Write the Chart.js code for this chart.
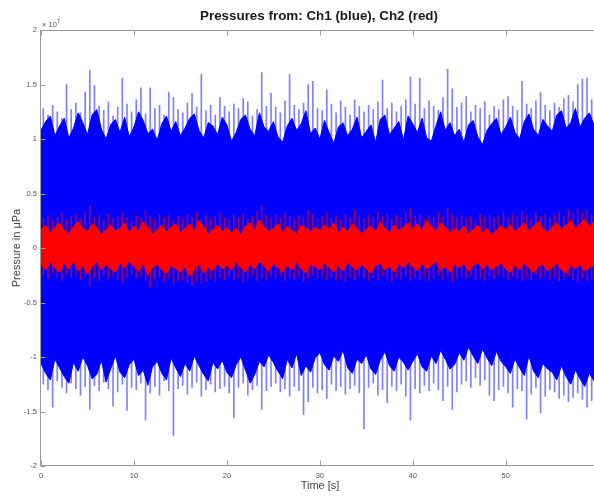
<!DOCTYPE html>
<html lang="en">
<head>
<meta charset="UTF-8">
<title>Pressures from: Ch1 (blue), Ch2 (red)</title>
<script src="https://cdn.jsdelivr.net/npm/chart.js"></script>
<style>
  html, body { margin: 0; padding: 0; background: #fff; }
  canvas { display: block; }
</style>
</head>
<body>
<canvas id="pressure" width="594" height="496"></canvas>
<script>
// axis ticks (time in s, pressure in 10^7 µPa)
const xTicks = [0, 10, 20, 30, 40, 50];
const yTicks = [-2, -1.5, -1, -0.5, 0, 0.5, 1, 1.5, 2];

// dense band of each channel, one sample per half second (t = 0..60)
const ch1Top = [
  1.08, 1.16, 1.21, 1.03, 1.12, 1.19, 1.01, 1.10, 1.24, 1.15,
  1.04, 1.22, 1.27, 1.09, 1.00, 1.13, 1.18, 1.06, 1.20, 1.02,
  1.11, 1.25, 1.17, 1.05, 1.09, 0.99, 1.14, 1.21, 1.07, 1.16,
  1.03, 1.10, 1.19, 1.23, 1.08, 1.01, 1.15, 1.12, 1.04, 1.20,
  1.13, 0.98, 1.06, 1.18, 1.22, 1.09, 1.03, 1.24, 1.11, 1.07,
  1.16, 1.02, 0.97, 1.12, 1.19, 1.08, 1.14, 1.26, 1.05, 1.10,
  1.00, 1.17, 1.06, 0.96, 1.11, 1.15, 1.03, 1.09, 1.20, 1.01,
  1.07, 1.13, 0.97, 1.18, 1.22, 1.04, 1.10, 1.16, 0.99, 1.21,
  1.14, 1.06, 1.19, 1.01, 0.98, 1.12, 1.25, 1.08, 1.15, 1.03,
  1.09, 0.97, 1.13, 1.17, 1.02, 0.95, 1.08, 1.14, 1.19, 1.04,
  1.11, 1.20, 1.06, 1.00, 1.16, 1.23, 1.09, 1.03, 1.18, 1.12,
  1.07, 1.22, 1.26, 1.10, 1.15, 1.28, 1.11, 1.19, 1.24, 1.13,
  1.20
];
const ch1Bottom = [
  -1.06, -1.15, -1.21, -1.02, -1.10, -1.18, -1.24, -1.05, -1.13, -1.00,
  -1.08, -1.20, -1.16, -1.03, -1.23, -1.11, -0.99, -1.14, -1.19, -1.07,
  -1.02, -1.17, -1.12, -1.26, -1.09, -1.04, -1.15, -1.21, -1.01, -1.10,
  -1.18, -1.06, -1.13, -0.99, -1.08, -1.16, -1.22, -1.05, -1.11, -1.03,
  -1.14, -1.19, -1.07, -1.00, -1.12, -1.24, -1.16, -1.04, -1.09, -0.98,
  -1.05, -1.13, -1.20, -1.02, -1.10, -0.97, -1.17, -1.08, -1.14, -1.01,
  -0.96, -1.07, -1.12, -0.99, -1.04, -0.94, -1.10, -1.15, -1.02, -1.06,
  -0.98, -1.11, -1.16, -1.03, -0.95, -1.08, -1.13, -1.00, -1.05, -1.12,
  -1.04, -0.97, -1.09, -1.13, -0.99, -1.06, -0.94, -1.02, -1.11, -1.07,
  -0.96, -1.03, -0.91, -0.99, -1.06, -0.93, -1.01, -1.08, -0.95, -1.04,
  -1.09, -1.15, -1.02, -1.10, -1.17, -0.99, -1.13, -1.19, -1.06, -1.11,
  -1.14, -1.21, -1.08, -1.18, -1.25, -1.12, -1.20, -1.27, -1.15, -1.22,
  -1.18
];
const ch2Top = [
  0.17, 0.21, 0.14, 0.19, 0.23, 0.16, 0.13, 0.20, 0.24, 0.18,
  0.15, 0.22, 0.19, 0.12, 0.17, 0.21, 0.15, 0.18, 0.23, 0.14,
  0.20, 0.16, 0.24, 0.19, 0.13, 0.17, 0.21, 0.15, 0.19, 0.22,
  0.14, 0.18, 0.22, 0.16, 0.25, 0.20, 0.13, 0.17, 0.21, 0.15,
  0.19, 0.14, 0.18, 0.12, 0.20, 0.23, 0.17, 0.26, 0.19, 0.15,
  0.18, 0.22, 0.14, 0.20, 0.16, 0.13, 0.21, 0.18, 0.15, 0.19,
  0.16, 0.21, 0.17, 0.23, 0.14, 0.19, 0.15, 0.22, 0.18, 0.13,
  0.17, 0.20, 0.15, 0.24, 0.18, 0.14, 0.21, 0.16, 0.19, 0.23,
  0.18, 0.22, 0.16, 0.25, 0.20, 0.15, 0.23, 0.19, 0.14, 0.18,
  0.15, 0.20, 0.13, 0.17, 0.21, 0.14, 0.18, 0.12, 0.16, 0.20,
  0.17, 0.21, 0.15, 0.19, 0.23, 0.16, 0.20, 0.24, 0.18, 0.14,
  0.19, 0.23, 0.17, 0.21, 0.25, 0.18, 0.22, 0.26, 0.20, 0.24,
  0.21
];
const ch2Bottom = [
  -0.15, -0.20, -0.13, -0.18, -0.22, -0.14, -0.19, -0.12, -0.21, -0.16,
  -0.24, -0.17, -0.13, -0.20, -0.15, -0.19, -0.22, -0.14, -0.18, -0.12,
  -0.17, -0.21, -0.14, -0.25, -0.18, -0.15, -0.20, -0.23, -0.16, -0.19,
  -0.22, -0.17, -0.26, -0.20, -0.15, -0.23, -0.18, -0.21, -0.14, -0.19,
  -0.16, -0.20, -0.13, -0.18, -0.22, -0.15, -0.19, -0.12, -0.17, -0.21,
  -0.14, -0.18, -0.22, -0.16, -0.20, -0.13, -0.19, -0.23, -0.15, -0.17,
  -0.20, -0.14, -0.18, -0.22, -0.16, -0.21, -0.13, -0.17, -0.20, -0.15,
  -0.19, -0.23, -0.16, -0.14, -0.20, -0.17, -0.22, -0.15, -0.18, -0.13,
  -0.17, -0.21, -0.14, -0.19, -0.16, -0.12, -0.20, -0.17, -0.22, -0.15,
  -0.18, -0.14, -0.21, -0.16, -0.13, -0.19, -0.15, -0.20, -0.17, -0.14,
  -0.19, -0.22, -0.16, -0.20, -0.14, -0.18, -0.23, -0.17, -0.15, -0.21,
  -0.18, -0.14, -0.20, -0.23, -0.16, -0.19, -0.15, -0.21, -0.18, -0.16,
  -0.19
];

// peak excursions, one per half second, between the band samples (t = 0.25..59.75)
const ch1PeakHi = [
  1.28, 1.22, 1.31, 1.25, 1.19, 1.50, 1.27, 1.33, 1.24, 1.43,
  1.63, 1.49, 1.30, 1.26, 1.34, 1.21, 1.29, 1.56, 1.32, 1.25,
  1.36, 1.47, 1.23, 1.47, 1.28, 1.31, 1.22, 1.43, 1.38, 1.27,
  1.24, 1.33, 1.42, 1.29, 1.59, 1.26, 1.31, 1.22, 1.38, 1.30,
  1.25, 1.32, 1.28, 1.37, 1.34, 1.21, 1.27, 1.61, 1.30, 1.42,
  1.29, 1.24, 1.35, 1.59, 1.31, 1.27, 1.33, 1.50, 1.53, 1.28,
  1.26, 1.45, 1.32, 1.24, 1.35, 1.29, 1.22, 1.36, 1.30, 1.25,
  1.31, 1.27, 1.34, 1.54, 1.28, 1.33, 1.25, 1.30, 1.36, 1.57,
  1.32, 1.56, 1.28, 1.35, 1.30, 1.26, 1.38, 1.64, 1.46, 1.29,
  1.33, 1.39, 1.25, 1.31, 1.28, 1.34, 1.22, 1.30, 1.27, 1.36,
  1.39, 1.30, 1.26, 1.53, 1.32, 1.28, 1.35, 1.43, 1.31, 1.26,
  1.33, 1.29, 1.37, 1.40, 1.34, 1.50, 1.55, 1.56, 1.36, 1.31
];
const ch1PeakLo = [
  -1.25, -1.30, -1.46, -1.22, -1.28, -1.33, -1.24, -1.29, -1.35, -1.27,
  -1.48, -1.26, -1.31, -1.23, -1.29, -1.45, -1.32, -1.25, -1.49, -1.28,
  -1.30, -1.24, -1.58, -1.33, -1.27, -1.35, -1.22, -1.31, -1.72, -1.29,
  -1.26, -1.34, -1.28, -1.23, -1.36, -1.30, -1.25, -1.32, -1.29, -1.27,
  -1.33, -1.56, -1.28, -1.24, -1.35, -1.30, -1.26, -1.48, -1.31, -1.27,
  -1.24, -1.32, -1.29, -1.36, -1.27, -1.31, -1.53, -1.41, -1.28, -1.33,
  -1.30, -1.38, -1.25, -1.31, -1.27, -1.34, -1.29, -1.26, -1.33, -1.66,
  -1.28, -1.24, -1.35, -1.30, -1.42, -1.27, -1.31, -1.25, -1.36, -1.58,
  -1.29, -1.33, -1.26, -1.31, -1.24, -1.30, -1.40, -1.27, -1.48, -1.32,
  -1.25, -1.22, -1.28, -1.19, -1.26, -1.21, -1.35, -1.40, -1.30, -1.27,
  -1.33, -1.46, -1.29, -1.31, -1.57, -1.34, -1.28, -1.51, -1.36, -1.30,
  -1.32, -1.38, -1.35, -1.41, -1.37, -1.33, -1.39, -1.46, -1.40, -1.34
];
const ch2PeakHi = [
  0.27, 0.30, 0.25, 0.28, 0.32, 0.26, 0.29, 0.31, 0.27, 0.33,
  0.39, 0.28, 0.30, 0.26, 0.31, 0.27, 0.29, 0.32, 0.28, 0.25,
  0.30, 0.27, 0.34, 0.29, 0.26, 0.31, 0.28, 0.30, 0.25, 0.29,
  0.27, 0.31, 0.28, 0.33, 0.26, 0.30, 0.27, 0.29, 0.32, 0.28,
  0.26, 0.30, 0.28, 0.31, 0.27, 0.29, 0.33, 0.39, 0.30, 0.28,
  0.31, 0.27, 0.32, 0.29, 0.26, 0.30, 0.28, 0.34, 0.31, 0.27,
  0.29, 0.32, 0.27, 0.30, 0.26, 0.31, 0.28, 0.35, 0.29, 0.27,
  0.30, 0.28, 0.33, 0.29, 0.31, 0.27, 0.30, 0.28, 0.32, 0.36,
  0.29, 0.31, 0.27, 0.30, 0.28, 0.33, 0.29, 0.37, 0.31, 0.28,
  0.30, 0.27, 0.29, 0.26, 0.31, 0.28, 0.30, 0.27, 0.29, 0.32,
  0.28, 0.31, 0.29, 0.33, 0.30, 0.27, 0.32, 0.29, 0.31, 0.28,
  0.30, 0.33, 0.29, 0.35, 0.31, 0.36, 0.32, 0.34, 0.30, 0.29
];
const ch2PeakLo = [
  -0.25, -0.28, -0.23, -0.27, -0.30, -0.24, -0.27, -0.25, -0.29, -0.26,
  -0.35, -0.27, -0.30, -0.25, -0.28, -0.26, -0.29, -0.32, -0.27, -0.24,
  -0.28, -0.26, -0.30, -0.36, -0.29, -0.27, -0.31, -0.28, -0.33, -0.30,
  -0.29, -0.32, -0.34, -0.30, -0.33, -0.31, -0.28, -0.30, -0.27, -0.29,
  -0.26, -0.29, -0.27, -0.31, -0.28, -0.25, -0.30, -0.27, -0.29, -0.26,
  -0.28, -0.25, -0.30, -0.27, -0.29, -0.26, -0.31, -0.28, -0.25, -0.27,
  -0.26, -0.29, -0.27, -0.30, -0.28, -0.31, -0.27, -0.29, -0.26, -0.28,
  -0.30, -0.27, -0.29, -0.25, -0.28, -0.31, -0.27, -0.29, -0.26, -0.30,
  -0.27, -0.29, -0.26, -0.30, -0.28, -0.25, -0.29, -0.27, -0.31, -0.28,
  -0.26, -0.28, -0.25, -0.29, -0.27, -0.30, -0.26, -0.28, -0.25, -0.27,
  -0.29, -0.26, -0.28, -0.30, -0.27, -0.29, -0.25, -0.28, -0.26, -0.29,
  -0.27, -0.30, -0.28, -0.26, -0.29, -0.31, -0.27, -0.30, -0.28, -0.27
];

const STEP = 0.5;          // s between samples
const PEAK_OFFSET = 0.25;  // peaks sit between band samples
const T_MAX = 59.5;

const band = arr => arr.map((v, i) => ({ x: i * STEP, y: v }));
const peaks = (lo, hi) => lo.map((v, i) => ({ x: PEAK_OFFSET + i * STEP, y: [v, hi[i]] }));

const FONT = '"Liberation Sans", Arial, Helvetica, sans-serif';
Chart.defaults.font.family = FONT;

// axes box, inward ticks and all labels, MATLAB style
const frame = {
  id: 'frame',
  afterDraw(chart) {
    const { ctx, chartArea: a, scales: { x, y } } = chart;
    ctx.save();
    ctx.strokeStyle = '#999';
    ctx.lineWidth = 1;
    ctx.beginPath();
    const L = Math.round(a.left) - 0.5, T = Math.round(a.top) + 0.5, B = Math.round(a.bottom) - 0.5;
    ctx.moveTo(L, T); ctx.lineTo(a.right, T);
    ctx.moveTo(L, T); ctx.lineTo(L, B);
    ctx.moveTo(L, B); ctx.lineTo(a.right, B);
    xTicks.forEach(v => {
      const px = Math.round(x.getPixelForValue(v)) + 0.5;
      ctx.moveTo(px, B); ctx.lineTo(px, B - 5);
      ctx.moveTo(px, T); ctx.lineTo(px, T + 5);
    });
    yTicks.forEach(v => {
      const py = Math.round(y.getPixelForValue(v)) + 0.5;
      ctx.moveTo(L, py); ctx.lineTo(L + 5, py);
    });
    ctx.stroke();

    ctx.textBaseline = 'middle';
    ctx.textAlign = 'center';
    ctx.fillStyle = '#1a1a1a';
    ctx.font = 'bold 13.4px ' + FONT;
    ctx.fillText('Pressures from: Ch1 (blue), Ch2 (red)', 319, 16, 238);

    ctx.fillStyle = '#444';
    ctx.font = '11px ' + FONT;
    ctx.fillText('Time [s]', 320, 486);

    ctx.save();
    ctx.translate(17, (a.top + a.bottom) / 2);
    ctx.rotate(-Math.PI / 2);
    ctx.fillText('Pressure in \u03bcPa', 0, 0);
    ctx.restore();

    // exponent of the y axis
    ctx.fillStyle = '#555';
    ctx.textAlign = 'left';
    ctx.textBaseline = 'alphabetic';
    ctx.font = '7.5px ' + FONT;
    ctx.fillText('\u00d7 10', a.left + 1, 27);
    ctx.font = '5.5px ' + FONT;
    ctx.fillText('7', a.left + 16, 23);
    ctx.restore();
  }
};

new Chart(document.getElementById('pressure'), {
  type: 'line',
  data: {
    datasets: [
      {
        type: 'bar', label: 'Ch1 peaks', data: peaks(ch1PeakLo, ch1PeakHi),
        backgroundColor: 'rgba(0, 0, 255, 0.5)', borderWidth: 0,
        barThickness: 1, grouped: false, order: 6
      },
      {
        label: 'Ch1', data: band(ch1Top), borderColor: '#0000ff', backgroundColor: '#0000ff',
        borderWidth: 1, pointRadius: 0, fill: '+1', order: 5
      },
      {
        label: 'Ch1 low', data: band(ch1Bottom), borderColor: '#0000ff',
        borderWidth: 1, pointRadius: 0, fill: false, order: 4
      },
      {
        type: 'bar', label: 'Ch2 peaks', data: peaks(ch2PeakLo, ch2PeakHi),
        backgroundColor: 'rgba(255, 0, 0, 0.6)', borderWidth: 0,
        barThickness: 1, grouped: false, order: 3
      },
      {
        label: 'Ch2', data: band(ch2Top), borderColor: '#ff0000', backgroundColor: '#ff0000',
        borderWidth: 1, pointRadius: 0, fill: '+1', order: 2
      },
      {
        label: 'Ch2 low', data: band(ch2Bottom), borderColor: '#ff0000',
        borderWidth: 1, pointRadius: 0, fill: false, order: 1
      }
    ]
  },
  options: {
    responsive: false,
    animation: false,
    layout: { padding: { top: 30, right: 0, left: 0, bottom: 0 } },
    plugins: { legend: { display: false }, title: { display: false }, tooltip: { enabled: false } },
    scales: {
      x: {
        type: 'linear', min: 0, max: T_MAX, offset: false,
        grid: { display: false, drawTicks: false, offset: false },
        border: { display: false },
        afterBuildTicks: s => { s.ticks = xTicks.map(v => ({ value: v })); },
        afterFit: s => { s.height = 30; },
        ticks: { color: '#555', font: { size: 7.5 }, padding: 5, maxRotation: 0, autoSkip: false }
      },
      y: {
        type: 'linear', min: -2, max: 2,
        grid: { display: false, drawTicks: false },
        border: { display: false },
        afterBuildTicks: s => { s.ticks = yTicks.map(v => ({ value: v })); },
        afterFit: s => { s.width = 41; },
        ticks: { color: '#555', font: { size: 7.5 }, padding: 4, callback: v => String(v) }
      }
    }
  },
  plugins: [frame]
});
</script>
</body>
</html>
